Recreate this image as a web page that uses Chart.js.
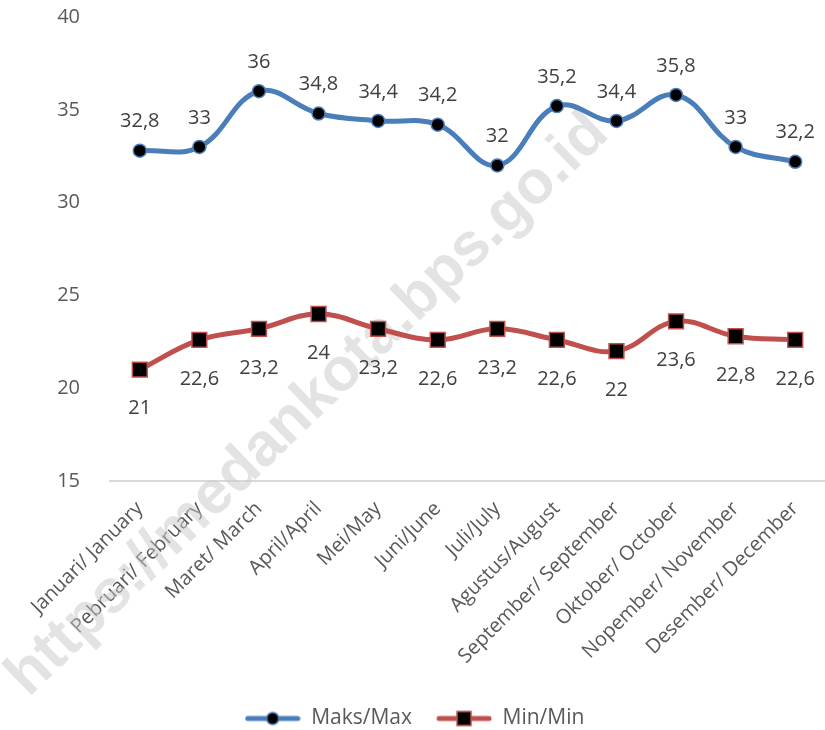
<!DOCTYPE html>
<html><head><meta charset="utf-8">
<script src="https://cdn.jsdelivr.net/npm/chart.js@4.4.0/dist/chart.umd.min.js"></script>
<style>html,body{margin:0;padding:0;background:#fff;overflow:hidden}#wrap{width:825px;height:730px}canvas{display:block}</style>
</head><body><div id="wrap"><canvas id="c" width="825" height="730"></canvas></div>
<script>
const categories = ["Januari/ January","Pebruari/ February","Maret/ March","April/April","Mei/May","Juni/June","Juli/July","Agustus/August","September/ September","Oktober/ October","Nopember/ November","Desember/ December"];
const maxValues = [32.8,33,36,34.8,34.4,34.2,32,35.2,34.4,35.8,33,32.2];
const minValues = [21,22.6,23.2,24,23.2,22.6,23.2,22.6,22,23.6,22.8,22.6];
const yTicks = [15,20,25,30,35,40];

const FONT = "'Open Sans', 'Liberation Sans', sans-serif";
const BLUE = '#4a7ebb', RED = '#c0504d';

function legendIcon(color, shape){
  const c = document.createElement('canvas'); c.width = 56; c.height = 18;
  const x = c.getContext('2d');
  x.strokeStyle = color; x.lineWidth = 5; x.lineCap = 'round';
  x.beginPath(); x.moveTo(3,9); x.lineTo(53,9); x.stroke();
  x.fillStyle = '#000'; x.lineWidth = 1.5;
  if(shape==='circle'){ x.beginPath(); x.arc(28,9,6,0,Math.PI*2); x.fill(); x.stroke(); }
  else { x.fillRect(21,2,14,14); x.strokeRect(21,2,14,14); }
  return c;
}

const watermark = {
  id:'watermark',
  beforeDatasetsDraw(chart){
    const ctx = chart.ctx; ctx.save();
    ctx.translate(308,405); ctx.rotate(-44*Math.PI/180);
    const txt = 'https://medankota.bps.go.id';
    ctx.font = "bold 50px 'Liberation Sans', Arial, sans-serif";
    const w = ctx.measureText(txt).width; const s = 810/w;
    ctx.font = "bold " + (50*s).toFixed(1) + "px 'Liberation Sans', Arial, sans-serif";
    ctx.fillStyle = 'rgba(200,200,200,0.5)'; ctx.textAlign='center'; ctx.textBaseline='middle';
    ctx.fillText(txt,0,0); ctx.restore();
  }
};

const dataLabels = {
  id:'dataLabels',
  afterDatasetsDraw(chart){
    const ctx = chart.ctx; ctx.save();
    ctx.font = "20px " + FONT; ctx.fillStyle = '#404040'; ctx.textAlign='center'; ctx.textBaseline='middle';
    chart.data.datasets.forEach((ds,i)=>{
      const meta = chart.getDatasetMeta(i);
      meta.data.forEach((p,j)=>{
        const t = String(ds.data[j]).replace('.',',');
        ctx.fillText(t, p.x, i===0 ? p.y-29 : p.y+39);
      });
    });
    ctx.restore();
  }
};

new Chart(document.getElementById('c'), {
  type:'line',
  data:{ labels:categories, datasets:[
    {label:'Maks/Max', data:maxValues, borderColor:BLUE, borderWidth:5, tension:0.4,
     pointStyle:'circle', pointRadius:6.5, pointBackgroundColor:'#000', pointBorderColor:BLUE, pointBorderWidth:1.5},
    {label:'Min/Min', data:minValues, borderColor:RED, borderWidth:5, tension:0.4,
     pointStyle:'rect', pointRadius:10.5, pointBackgroundColor:'#000', pointBorderColor:RED, pointBorderWidth:1.5}
  ]},
  options:{
    responsive:false, animation:false, devicePixelRatio:1,
    layout:{autoPadding:false, padding:{top:17,left:0,right:-4,bottom:-9}},
    plugins:{
      tooltip:{enabled:false},
      legend:{position:'bottom', labels:{usePointStyle:true, pointStyleWidth:56, font:{size:21,family:FONT}, color:'#595959', padding:24,
        generateLabels(chart){
          return chart.data.datasets.map((ds,i)=>({text:ds.label, pointStyle:legendIcon(ds.borderColor, i===0?'circle':'rect'), fillStyle:'#000', strokeStyle:ds.borderColor, lineWidth:0, datasetIndex:i, fontColor:'#595959'}));
        }}}
    },
    scales:{
      x:{offset:true, grid:{display:false}, border:{display:true,color:'#d9d9d9',width:2},
         ticks:{maxRotation:45,minRotation:45,autoSkip:false,padding:8,font:{size:20,family:FONT},color:'#595959'},
         afterFit(s){ s.height = 203; s.paddingRight = 0; s.paddingLeft = 0; }},
      y:{min:15,max:40, grid:{display:false}, border:{display:false},
         afterBuildTicks(s){ s.ticks = yTicks.map(v=>({value:v})); },
         ticks:{font:{size:20,family:FONT},color:'#595959',padding:22},
         afterFit(s){ s.width = 110; s.paddingTop = 0; s.paddingBottom = 0; }}
    }
  },
  plugins:[watermark,dataLabels]
});
</script></body></html>
